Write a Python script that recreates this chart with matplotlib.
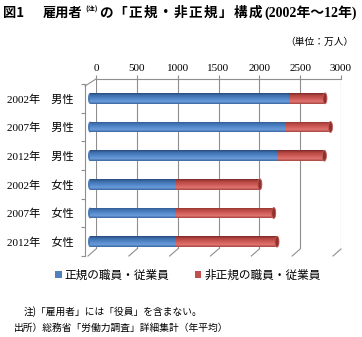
import matplotlib
matplotlib.use("Agg")
import matplotlib.pyplot as plt
import numpy as np
from matplotlib.colors import LinearSegmentedColormap
from matplotlib.patches import Ellipse, Patch
from matplotlib.lines import Line2D

# ---------------- data ----------------
categories = ["2002年　男性", "2007年　男性", "2012年　男性",
              "2002年　女性", "2007年　女性", "2012年　女性"]
regular = [2440, 2400, 2295, 1053, 1035, 1045]
nonregular = [437, 545, 575, 1027, 1215, 1245]
series_names = ["正規の職員・従業員", "非正規の職員・従業員"]
xticks = [0, 500, 1000, 1500, 2000, 2500, 3000]

JP = ["Noto Sans CJK JP", "DejaVu Sans"]
SERIF_JP = ["Liberation Serif", "Noto Sans CJK JP"]

W, H = 362, 337
fig = plt.figure(figsize=(W / 100, H / 100), dpi=100)
fig.patch.set_facecolor("white")

def rect(x0, y0, x1, y1):
    # pixel coords (from top-left) -> figure fraction rect
    return [x0 / W, 1 - y1 / H, (x1 - x0) / W, (y1 - y0) / H]

grid_c = "#8E8E8E"

# ---------- back wall (grid + top ticks) ----------
axb = fig.add_axes(rect(96, 79, 341, 249))
axb.set_xlim(0, 3000)
axb.set_ylim(0, 1)
axb.set_xticks(xticks)
axb.xaxis.tick_top()
axb.set_yticks([])
axb.tick_params(axis="x", direction="out", length=3, color=grid_c, width=0.8, pad=1)
for lab in axb.get_xticklabels():
    lab.set_family(SERIF_JP)
    lab.set_fontsize(8)
for s in ["left", "right", "bottom"]:
    axb.spines[s].set_visible(False)
axb.spines["top"].set_color(grid_c)
axb.spines["top"].set_linewidth(0.8)
for v in xticks:
    axb.axvline(v, color=grid_c, lw=0.8)
axb.patch.set_alpha(0)

# ---------- bars (front) ----------
px_per_unit = 245 / 3000.0
axf = fig.add_axes(rect(85, 84, 335, 256))
axf.set_xlim(-5 / px_per_unit, 3000)
axf.set_ylim(len(categories) - 0.5, -0.5)
axf.patch.set_alpha(0)
for s in ["top", "right", "bottom"]:
    axf.spines[s].set_visible(False)
axf.spines["left"].set_color(grid_c)
axf.spines["left"].set_linewidth(0.8)
axf.set_xticks([])
ypos = np.arange(len(categories))
axf.set_yticks(ypos)
axf.set_yticklabels(categories)
axf.set_yticks(np.arange(-0.5, len(categories)), minor=True)
axf.tick_params(axis="y", which="major", length=0, pad=8)
axf.tick_params(axis="y", which="minor", length=3, color=grid_c, width=0.8)
for lab in axf.get_yticklabels():
    lab.set_family(SERIF_JP)
    lab.set_fontsize(8)

bh = 0.38
blue_cmap = LinearSegmentedColormap.from_list(
    "b", [(0, "#3A66A0"), (0.22, "#6C9CDA"), (0.5, "#5087C8"), (0.8, "#3E6DAA"), (1, "#27497A")])
red_cmap = LinearSegmentedColormap.from_list(
    "r", [(0, "#A84541"), (0.22, "#E07571"), (0.5, "#CD5955"), (0.8, "#B1453F"), (1, "#7A2826")])
grad = np.linspace(0, 1, 64).reshape(-1, 1)

bars_b = axf.barh(ypos, regular, height=bh, color="#4F81BD", zorder=3)
bars_r = axf.barh(ypos, nonregular, left=regular, height=bh, color="#C0504D", zorder=3)

for bars, cmap in [(bars_b, blue_cmap), (bars_r, red_cmap)]:
    for p in bars:
        x0, y0 = p.get_x(), p.get_y()
        w, h = p.get_width(), p.get_height()
        im = axf.imshow(grad, extent=[x0, x0 + w, y0, y0 + h], cmap=cmap,
                        aspect="auto", origin="upper", zorder=4, interpolation="bilinear")
        im.set_clip_path(p)

cap_w = 4 / px_per_unit
for i in range(len(categories)):
    # left rounded end
    axf.add_patch(Ellipse((0, ypos[i]), cap_w, bh, facecolor="#4A7BB7",
                          edgecolor="none", zorder=3.5))
    tot = regular[i] + nonregular[i]
    axf.add_patch(Ellipse((tot, ypos[i]), cap_w, bh, facecolor="#8E302D",
                          edgecolor="#C05A56", lw=0.6, zorder=5))

axf.set_xlim(-5 / px_per_unit, 3000)
axf.set_ylim(len(categories) - 0.5, -0.5)

# ---------- 3D floor / wall connectors ----------
fig.canvas.draw()
lines = []
for v in xticks:
    p = axb.transData.transform((v, 0))
    lines.append(Line2D([p[0], p[0] - 8], [p[1], p[1] - 7], color=grid_c, lw=0.8))
p = axb.transData.transform((0, 1))
lines.append(Line2D([p[0], p[0] - 11], [p[1], p[1] - 7], color=grid_c, lw=0.8))
for ln in lines:
    ln.set_transform(matplotlib.transforms.IdentityTransform())
    fig.add_artist(ln)

# ---------- titles and notes ----------
ty = 1 - 13 / H
fig.text(3 / W, ty, "図1", family=JP, fontsize=9.5, fontweight="bold", va="center")
fig.text(43 / W, ty, "雇用者", family=JP, fontsize=9.5, fontweight="bold", va="center")
fig.text(85 / W, 1 - 9 / H, "(注)", family=JP, fontsize=5, fontweight="bold", va="center")
mid = "の「正規・非正規」構成"
pitch = 15.0
for k, ch in enumerate(mid):
    fig.text((98 + pitch * k + pitch / 2) / W, ty, ch, family=JP, fontsize=9.8,
             fontweight="bold", va="center", ha="center")
fig.text(357 / W, ty, "(2002年～12年)", family=SERIF_JP, fontsize=10,
         fontweight="bold", va="center", ha="right")

fig.text(354 / W, 1 - 42 / H, "（単位：万人）", family=JP, fontsize=7, ha="right", va="center")

fig.text(24 / W, 1 - 312 / H, "注)「雇用者」には「役員」を含まない。", family=JP,
         fontsize=7, va="center")
fig.text(14 / W, 1 - 328 / H, "出所）総務省「労働力調査」詳細集計（年平均）", family=JP,
         fontsize=7, va="center")

# ---------- legend ----------
handles = [Patch(facecolor="#4F81BD", edgecolor="none"),
           Patch(facecolor="#C0504D", edgecolor="none")]
leg = fig.legend(handles, series_names, loc="center", bbox_to_anchor=(188 / W, 1 - 275 / H),
                 ncol=2, frameon=False, prop={"family": JP, "size": 8.4},
                 handlelength=0.55, handleheight=0.55, handletextpad=0.25,
                 columnspacing=2.2, borderpad=0)

fig.savefig("out.png", dpi=100, facecolor="white")
